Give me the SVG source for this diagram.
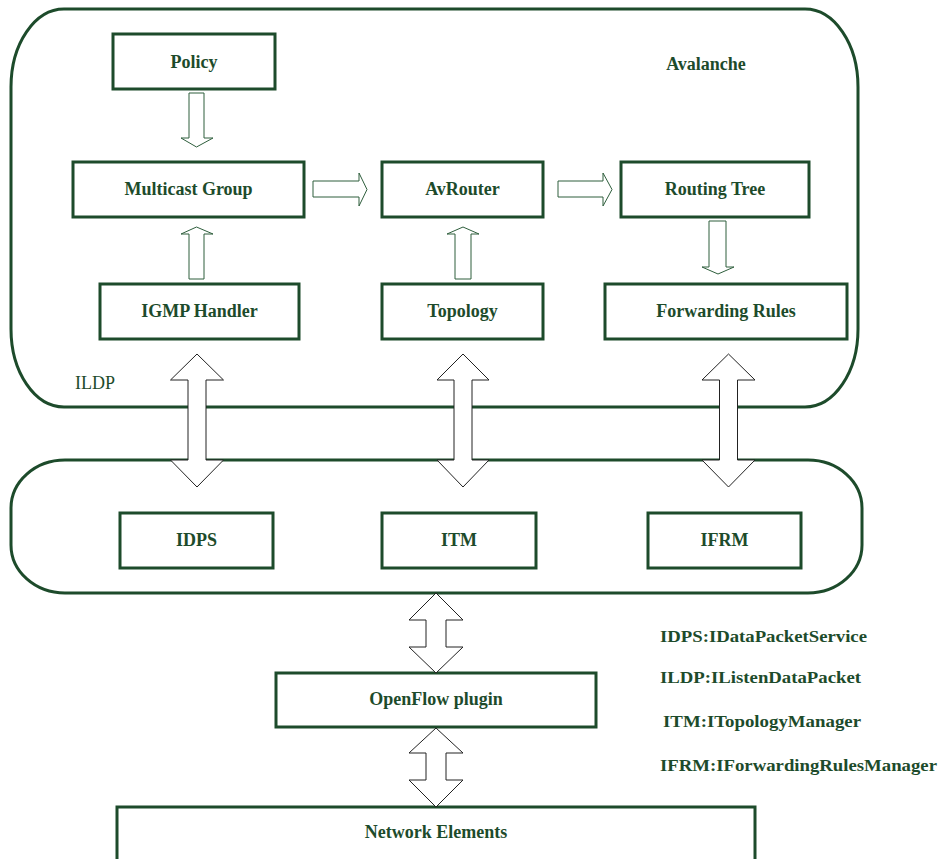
<svg xmlns="http://www.w3.org/2000/svg" width="939" height="859" viewBox="0 0 939 859">
<style>
.container{fill:none;stroke:#1d4b2b;stroke-width:3}
.box{fill:#fff;stroke:#1d4b2b;stroke-width:3}
.lbl{font-family:"Liberation Serif","Times New Roman",serif;font-weight:bold;font-size:18px;fill:#1d4b2b;text-anchor:middle}
.leg{font-family:"Liberation Serif","Times New Roman",serif;font-weight:bold;font-size:17px;fill:#1d4b2b}
.small{fill:#fff;stroke:#2e5e3c;stroke-width:1}
.big{fill:#fff;stroke:#222;stroke-width:1}
</style>
<rect width="939" height="859" fill="#fff"/>
<g id="avalanche">
<rect class="container" x="11" y="9" width="847" height="398" rx="53" ry="78"/>
<text class="lbl" x="706" y="70">Avalanche</text>
<text x="75" y="389" style="font-family:'Liberation Serif','Times New Roman',serif;font-size:18px;fill:#1d4b2b">ILDP</text>
</g>
<g id="interfaces">
<rect class="container" x="11" y="460" width="851" height="133" rx="54" ry="48"/>
</g>
<g id="policy"><rect class="box" x="113" y="34" width="162" height="55"/><text class="lbl" x="194" y="68">Policy</text></g>
<g id="multicast"><rect class="box" x="73" y="162" width="231" height="55"/><text class="lbl" x="188.5" y="195">Multicast Group</text></g>
<g id="igmp"><rect class="box" x="100" y="284" width="199" height="55"/><text class="lbl" x="199.5" y="317">IGMP Handler</text></g>
<g id="avrouter"><rect class="box" x="382" y="162" width="161" height="55"/><text class="lbl" x="462.5" y="195">AvRouter</text></g>
<g id="topology"><rect class="box" x="382" y="284" width="161" height="55"/><text class="lbl" x="462.5" y="317">Topology</text></g>
<g id="routingtree"><rect class="box" x="621" y="162" width="188" height="55"/><text class="lbl" x="715" y="195">Routing Tree</text></g>
<g id="forwarding"><rect class="box" x="605" y="284" width="242" height="55"/><text class="lbl" x="726" y="317">Forwarding Rules</text></g>
<g id="idps"><rect class="box" x="120" y="513" width="153" height="55"/><text class="lbl" x="196.5" y="546">IDPS</text></g>
<g id="itm"><rect class="box" x="382" y="513" width="154" height="55"/><text class="lbl" x="459" y="546">ITM</text></g>
<g id="ifrm"><rect class="box" x="648" y="513" width="153" height="55"/><text class="lbl" x="724.5" y="546">IFRM</text></g>
<g id="openflow"><rect class="box" x="276" y="673" width="320" height="54"/><text class="lbl" x="436" y="705">OpenFlow plugin</text></g>
<g id="network"><rect class="box" x="117" y="807" width="638" height="56"/><text class="lbl" x="436" y="838">Network Elements</text></g>
<g id="connectors">
<path class="small" d="M189,93 H204 V138 H213 L196.5,147 L181,138 H189 Z"/>
<path class="small" d="M189,279 V234 H181 L196.5,227 L213,234 H204 V279 Z"/>
<path class="small" d="M313,181 H359 V173 L367,189.5 L359,206 V197 H313 Z"/>
<path class="small" d="M455,279 V234 H447 L463,227 L479,234 H471 V279 Z"/>
<path class="small" d="M558,181 H603 V173 L612,189.5 L603,206 V197 H558 Z"/>
<path class="small" d="M709,221 H726 V267 H734 L718,274 L702,267 H709 Z"/>
<path class="big" d="M197,354 L223.5,380 H206 V460 H223.5 L197,487 L170.5,460 H188 V380 H170.5 Z"/>
<path class="big" d="M463,354 L489,380 H472 V460 H489 L463,487 L437,460 H454 V380 H437 Z"/>
<path class="big" d="M728.5,354 L755,380 H737.5 V460 H755 L728.5,487 L702,460 H719.5 V380 H702 Z"/>
<path class="big" d="M436,593 L463,620 H446 V647 H463 L436,673 L409,647 H426 V620 H409 Z"/>
<path class="big" d="M436,728 L463,753 H446 V780 H463 L436,807 L409,780 H426 V753 H409 Z"/>
</g>
<g id="legend">
<text class="leg" x="660" y="642" textLength="207" lengthAdjust="spacingAndGlyphs">IDPS:IDataPacketService</text>
<text class="leg" x="660" y="683" textLength="201" lengthAdjust="spacingAndGlyphs">ILDP:IListenDataPacket</text>
<text class="leg" x="663" y="727" textLength="198" lengthAdjust="spacingAndGlyphs">ITM:ITopologyManager</text>
<text class="leg" x="660" y="771" textLength="277" lengthAdjust="spacingAndGlyphs">IFRM:IForwardingRulesManager</text>
</g>
</svg>
